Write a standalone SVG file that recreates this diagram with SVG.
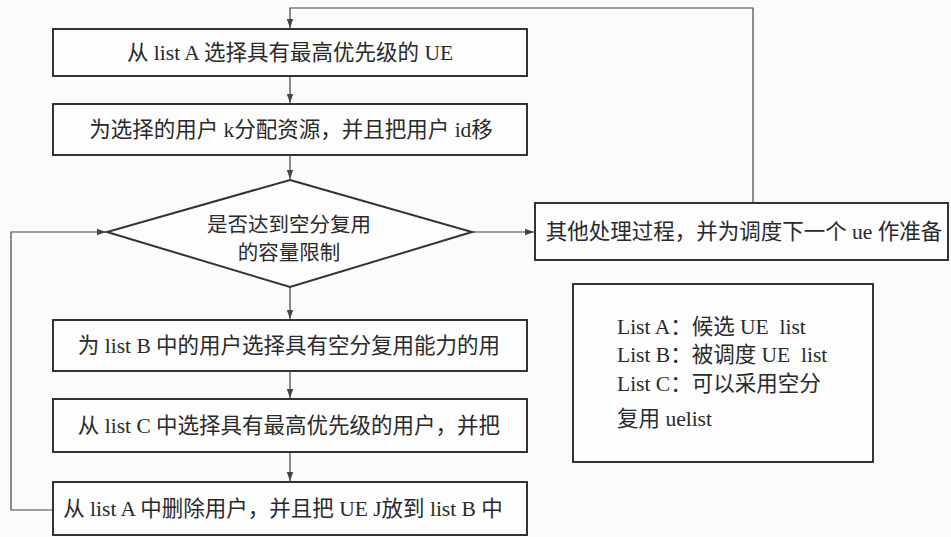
<svg xmlns="http://www.w3.org/2000/svg" width="951" height="537" viewBox="0 0 951 537">
<style>
.box{fill:#fdfdfd;stroke:#333;stroke-width:2}
.ln{fill:none;stroke:#444;stroke-width:1.2}
.t{font-family:"Liberation Serif","Noto Sans CJK SC",serif;font-size:21.5px;fill:#2a2a2a;text-anchor:middle}
.d{font-size:20.5px}
.lg{font-family:"Liberation Serif","Noto Sans CJK SC",serif;font-size:21.5px;fill:#2a2a2a}
</style>
<defs>
<marker id="arr" markerWidth="10" markerHeight="8" refX="9" refY="4" orient="auto" markerUnits="userSpaceOnUse">
<path d="M0,0.8 L9,4 L0,7.2 Z" fill="#444"/>
</marker>
</defs>
<rect width="951" height="537" fill="#fbfbfb"/>
<g id="connectors">
<path class="ln" d="M753,203 V8 H290 V28" marker-end="url(#arr)"/>
<path class="ln" d="M290,76 V103" marker-end="url(#arr)"/>
<path class="ln" d="M290,155 V179" marker-end="url(#arr)"/>
<path class="ln" d="M290,287 V319" marker-end="url(#arr)"/>
<path class="ln" d="M290,371 V398" marker-end="url(#arr)"/>
<path class="ln" d="M290,452 V481" marker-end="url(#arr)"/>
<path class="ln" d="M472,232 H534" marker-end="url(#arr)"/>
<path class="ln" d="M52,510 H11 V232 H106" marker-end="url(#arr)"/>
</g>
<g id="n1">
<rect class="box" x="53" y="29" width="474" height="47"/>
<text class="t" x="290" y="60">从 list A 选择具有最高优先级的 UE</text>
</g>
<g id="n2">
<rect class="box" x="53" y="104" width="474" height="51"/>
<text class="t" x="291" y="137">为选择的用户 k分配资源，并且把用户 id移</text>
</g>
<g id="n3">
<path class="box" d="M290,180 L472,232 L290,287 L107,232 Z"/>
<text class="t d" x="289" y="232">是否达到空分复用</text>
<text class="t d" x="289" y="260">的容量限制</text>
</g>
<g id="n4">
<rect class="box" x="535" y="203" width="413" height="57"/>
<text class="t" x="744" y="239">其他处理过程，并为调度下一个 ue 作准备</text>
</g>
<g id="n5">
<rect class="box" x="53" y="320" width="474" height="51"/>
<text class="t" x="289" y="353">为 list B 中的用户选择具有空分复用能力的用</text>
</g>
<g id="n6">
<rect class="box" x="53" y="399" width="474" height="53"/>
<text class="t" x="289" y="433">从 list C 中选择具有最高优先级的用户，并把</text>
</g>
<g id="n7">
<rect class="box" x="53" y="482" width="474" height="53"/>
<text class="t" x="283" y="516">从 list A 中删除用户，并且把 UE J放到 list B 中</text>
</g>
<g id="legend">
<rect class="box" x="573" y="284" width="300" height="178" stroke-width="1.6"/>
<text class="lg" x="617" y="334" xml:space="preserve">List A：候选 UE  list</text>
<text class="lg" x="617" y="362" xml:space="preserve">List B：被调度 UE  list</text>
<text class="lg" x="617" y="391">List C：可以采用空分</text>
<text class="lg" x="617" y="426">复用 uelist</text>
</g>
</svg>
